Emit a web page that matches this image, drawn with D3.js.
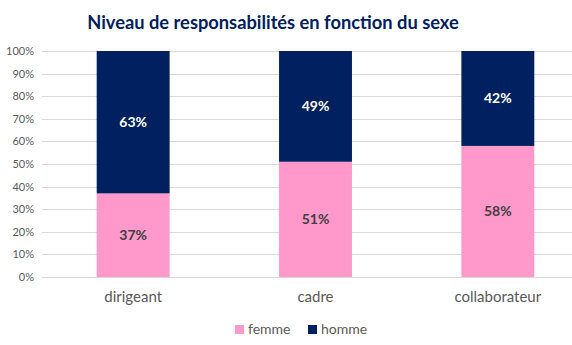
<!DOCTYPE html>
<html>
<head>
<meta charset="utf-8">
<script src="https://cdn.jsdelivr.net/npm/d3@7"></script>
<style>
  body { margin: 0; background: #fff; }
  svg { font-family: Lato, "Open Sans", sans-serif; display: block; }
  .tick text { fill: #595959; }
</style>
</head>
<body>
<svg class="chart" width="572" height="345"></svg>
<script>
const categories = ["dirigeant", "cadre", "collaborateur"]
const femme = [37, 51, 58]
const homme = [63, 49, 42]
const yTicks = [0, 10, 20, 30, 40, 50, 60, 70, 80, 90, 100]

const svg = d3.select("svg.chart")

const x = d3.scaleBand()
  .domain(categories)
  .range([42, 589])
  .paddingInner(0.6)
  .paddingOuter(0.3)

const y = d3.scaleLinear()
  .domain([0, 100])
  .range([277, 51])

// title
svg.append("text")
  .attr("x", 273)
  .attr("y", 29)
  .attr("text-anchor", "middle")
  .attr("font-size", 18.3)
  .attr("font-weight", "bold")
  .attr("fill", "#002060")
  .text("Niveau de responsabilités en fonction du sexe")

// gridlines
svg.append("g")
  .selectAll("line")
  .data(yTicks)
  .enter()
  .append("line")
  .attr("x1", 42)
  .attr("x2", 572)
  .attr("y1", d => Math.round(y(d)) + 0.5)
  .attr("y2", d => Math.round(y(d)) + 0.5)
  .attr("stroke", "#d9d9d9")
  .attr("stroke-width", 1)

// y axis labels
svg.append("g")
  .attr("transform", "translate(34,0)")
  .call(d3.axisLeft(y).tickValues(yTicks).tickSize(0).tickPadding(0).tickFormat(d => d + "%"))
  .call(g => g.select(".domain").remove())
  .call(g => g.selectAll("text").attr("font-size", 11).attr("font-family", "Lato, sans-serif"))

// stacked bars
const stack = categories.map((c, i) => ({ cat: c, f: femme[i], h: homme[i] }))

const groups = svg.append("g")
  .selectAll("g")
  .data(stack)
  .enter()
  .append("g")

groups.append("rect")
  .attr("x", d => x(d.cat))
  .attr("width", x.bandwidth())
  .attr("y", d => y(d.f))
  .attr("height", d => y(0) - y(d.f))
  .attr("fill", "#ff99cc")

groups.append("rect")
  .attr("x", d => x(d.cat))
  .attr("width", x.bandwidth())
  .attr("y", d => y(d.f + d.h))
  .attr("height", d => y(d.f) - y(d.f + d.h))
  .attr("fill", "#002060")

groups.append("text")
  .attr("x", d => x(d.cat) + x.bandwidth() / 2)
  .attr("y", d => y(d.f / 2))
  .attr("dy", "0.35em")
  .attr("text-anchor", "middle")
  .attr("font-size", 14)
  .attr("font-weight", "bold")
  .attr("fill", "#404040")
  .text(d => d.f + "%")

groups.append("text")
  .attr("x", d => x(d.cat) + x.bandwidth() / 2)
  .attr("y", d => y(d.f + d.h / 2))
  .attr("dy", "0.35em")
  .attr("text-anchor", "middle")
  .attr("font-size", 14)
  .attr("font-weight", "bold")
  .attr("fill", "#fff")
  .text(d => d.h + "%")

// category labels
svg.append("g")
  .selectAll("text")
  .data(categories)
  .enter()
  .append("text")
  .attr("x", d => x(d) + x.bandwidth() / 2)
  .attr("y", 302)
  .attr("text-anchor", "middle")
  .attr("font-size", 15)
  .attr("fill", "#595959")
  .text(d => d)

// legend
const legend = [
  { name: "femme", color: "#ff99cc", x: 235 },
  { name: "homme", color: "#002060", x: 308 }
]

const items = svg.append("g")
  .selectAll("g")
  .data(legend)
  .enter()
  .append("g")
  .attr("transform", d => `translate(${d.x}, 325)`)

items.append("rect")
  .attr("width", 9)
  .attr("height", 9)
  .attr("fill", d => d.color)

items.append("text")
  .attr("x", 13)
  .attr("y", 9)
  .attr("font-size", 14)
  .attr("fill", "#595959")
  .text(d => d.name)
</script>
</body>
</html>
